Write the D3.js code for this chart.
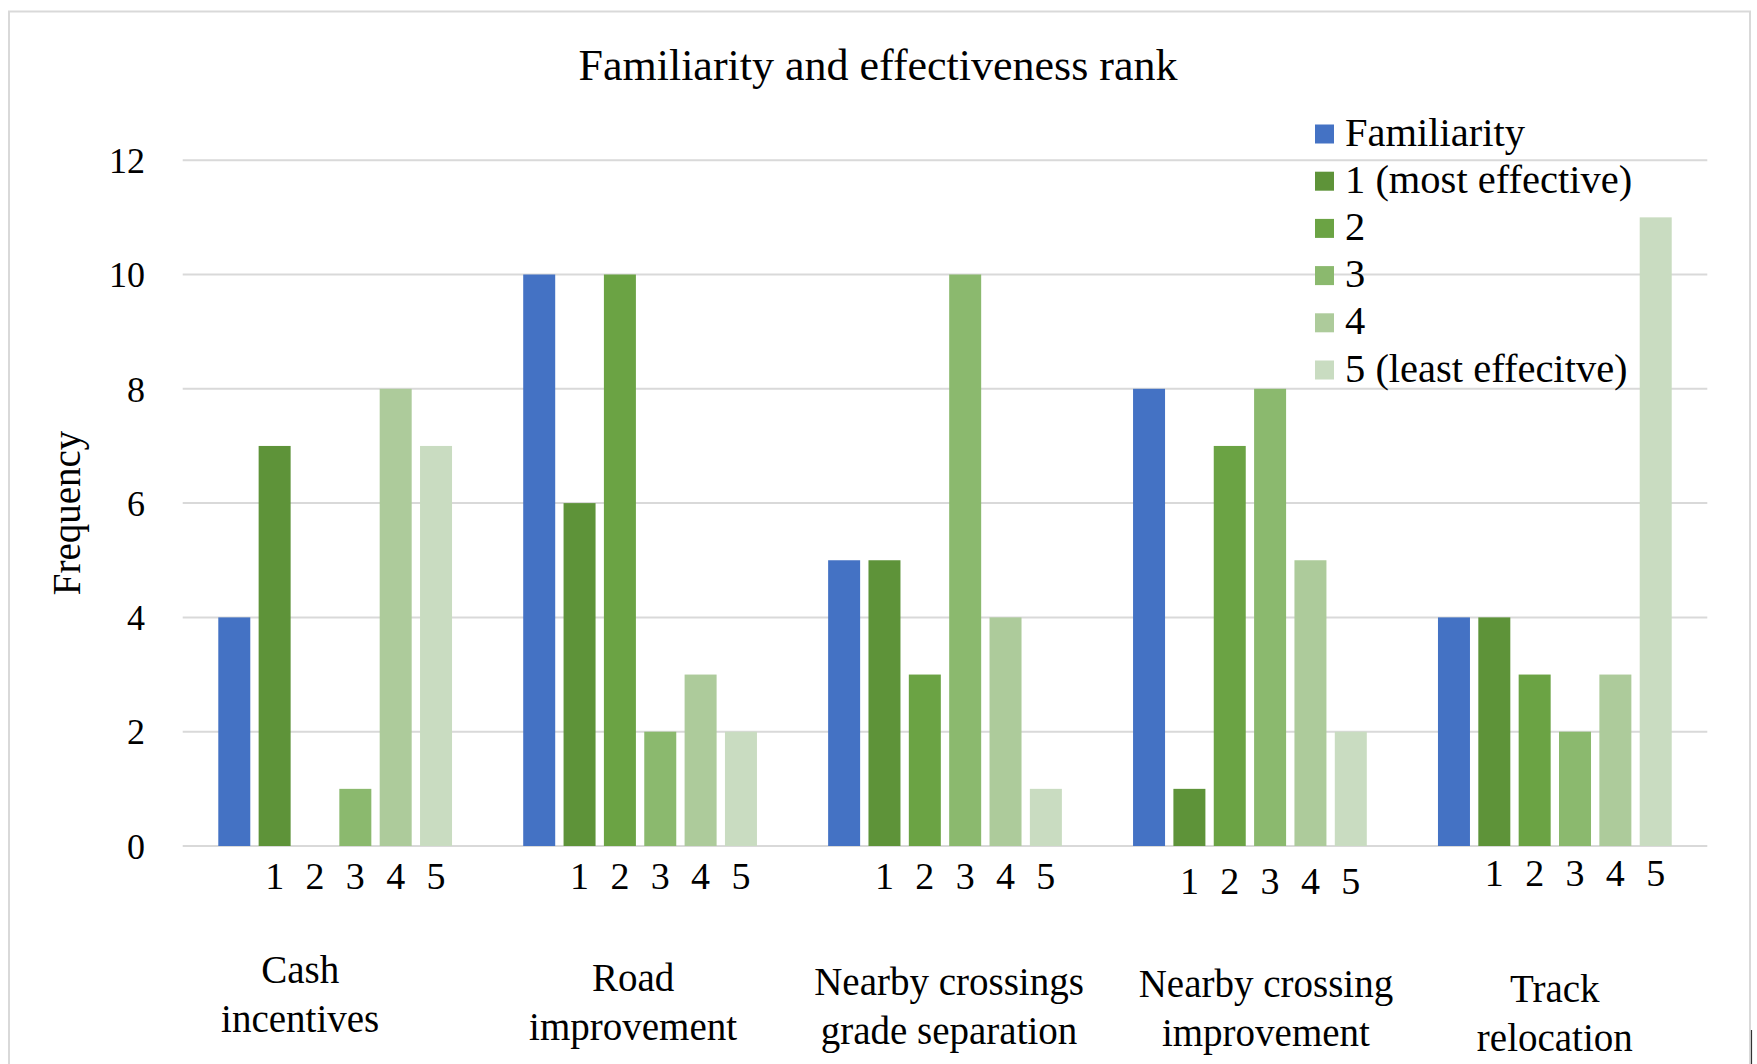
<!DOCTYPE html>
<html>
<head>
<meta charset="utf-8">
<script src="https://cdn.jsdelivr.net/npm/d3@7"></script>
<style>
  html, body { margin: 0; padding: 0; background: #fff; }
  svg { display: block; }
  text { font-family: "Liberation Serif", "Times New Roman", serif; fill: #000; }
</style>
</head>
<body>
<svg id="chart" width="1757" height="1064"></svg>
<script>
// ---- data ----
const categories = [
  ["Cash", "incentives"],
  ["Road", "improvement"],
  ["Nearby crossings", "grade separation"],
  ["Nearby crossing", "improvement"],
  ["Track", "relocation"]
];
const seriesNames = ["Familiarity", "1 (most effective)", "2", "3", "4", "5 (least effecitve)"];
const familiarity = [4, 10, 5, 8, 4];
const rank1 = [7, 6, 5, 1, 4];
const rank2 = [0, 10, 3, 7, 3];
const rank3 = [1, 2, 10, 8, 2];
const rank4 = [8, 3, 4, 5, 3];
const rank5 = [7, 2, 1, 2, 11];
const rankLabels = ["1", "2", "3", "4", "5"];
const yTicks = [0, 2, 4, 6, 8, 10, 12];
const colors = ["#4472C4", "#5E9339", "#6BA344", "#8BB96E", "#ADCB9B", "#C9DCC1"];

const seriesValues = [familiarity, rank1, rank2, rank3, rank4, rank5];
const catKeys = categories.map(c => c.join(" "));

// ---- layout ----
const svg = d3.select("#chart");
const plot = { left: 182.7, right: 1707.3, top: 160.2, bottom: 846 };

// chart frame
svg.append("rect")
  .attr("x", 9).attr("y", 11.5)
  .attr("width", 1741).attr("height", 1070)
  .attr("fill", "none").attr("stroke", "#d9d9d9").attr("stroke-width", 2);
svg.append("line")
  .attr("x1", 1751.5).attr("x2", 1751.5).attr("y1", 1030).attr("y2", 1064)
  .attr("stroke", "#333").attr("stroke-width", 1.2);

const x0 = d3.scaleBand().domain(catKeys).range([plot.left, plot.right]).paddingInner(0).paddingOuter(0);
const x1 = d3.scaleBand().domain(seriesNames).range([0, x0.bandwidth()]).paddingInner(0.207).paddingOuter(0.882);
const y = d3.scaleLinear().domain([0, 12]).range([plot.bottom, plot.top]);

// gridlines
svg.append("g").selectAll("line").data(yTicks).join("line")
  .attr("x1", plot.left).attr("x2", plot.right)
  .attr("y1", d => y(d)).attr("y2", d => y(d))
  .attr("stroke", "#d9d9d9").attr("stroke-width", 2);

// y axis labels
const yAxis = d3.axisLeft(y).tickValues(yTicks).tickSize(0).tickPadding(0).tickFormat(d3.format("d"));
const gy = svg.append("g").attr("transform", `translate(145,0)`).call(yAxis);
gy.select(".domain").remove();
gy.selectAll("text")
  .style("font-family", '"Liberation Serif", "Times New Roman", serif')
  .style("font-size", "36px").attr("fill", "#000").attr("dy", "0.34em");

// bars
const rows = [];
seriesNames.forEach((s, si) => {
  catKeys.forEach((c, ci) => rows.push({ s, si, c, ci, v: seriesValues[si][ci] }));
});
svg.append("g").selectAll("rect").data(rows).join("rect")
  .attr("x", d => x0(d.c) + x1(d.s))
  .attr("width", x1.bandwidth())
  .attr("y", d => y(d.v))
  .attr("height", d => y(0) - y(d.v))
  .attr("fill", d => colors[d.si]);

// rank sub-labels under bars
const subDy = [0, 0, 0, 5, -3];
const subRows = [];
catKeys.forEach((c, ci) => rankLabels.forEach((r, ri) => subRows.push({ c, ci, r, s: seriesNames[ri + 1] })));
svg.append("g").selectAll("text").data(subRows).join("text")
  .attr("x", d => x0(d.c) + x1(d.s) + x1.bandwidth() / 2)
  .attr("y", d => 889 + subDy[d.ci])
  .attr("text-anchor", "middle")
  .style("font-size", "38px")
  .text(d => d.r);

// category labels
const catDx = [-35, -7, 4, 16, 0];
const catBase = [983, 991, 995, 997, 1002];
const gc = svg.append("g").selectAll("text").data(categories).join("text")
  .attr("x", (d, i) => x0(catKeys[i]) + x0.bandwidth() / 2 + catDx[i])
  .attr("y", (d, i) => catBase[i])
  .attr("text-anchor", "middle")
  .style("font-size", "39px");
gc.selectAll("tspan").data(d => d).join("tspan")
  .attr("x", function () { return d3.select(this.parentNode).attr("x"); })
  .attr("dy", (d, i) => i === 0 ? 0 : 48.5)
  .text(d => d);

// title
svg.append("text")
  .attr("x", 878).attr("y", 80)
  .attr("text-anchor", "middle")
  .style("font-size", "44px")
  .text("Familiarity and effectiveness rank");

// y axis title
svg.append("text")
  .attr("transform", "translate(66,513) rotate(-90)")
  .attr("text-anchor", "middle")
  .attr("dy", "0.35em")
  .style("font-size", "39px")
  .text("Frequency");

// legend
const lg = svg.append("g").selectAll("g").data(seriesNames).join("g")
  .attr("transform", (d, i) => `translate(1315,${145.5 + i * 47.2})`);
lg.append("rect").attr("x", 0).attr("y", -21).attr("width", 19).attr("height", 19)
  .attr("fill", (d, i) => colors[i]);
lg.append("text").attr("x", 30).attr("y", 0)
  .style("font-size", "40.5px")
  .text(d => d);
</script>
</body>
</html>
